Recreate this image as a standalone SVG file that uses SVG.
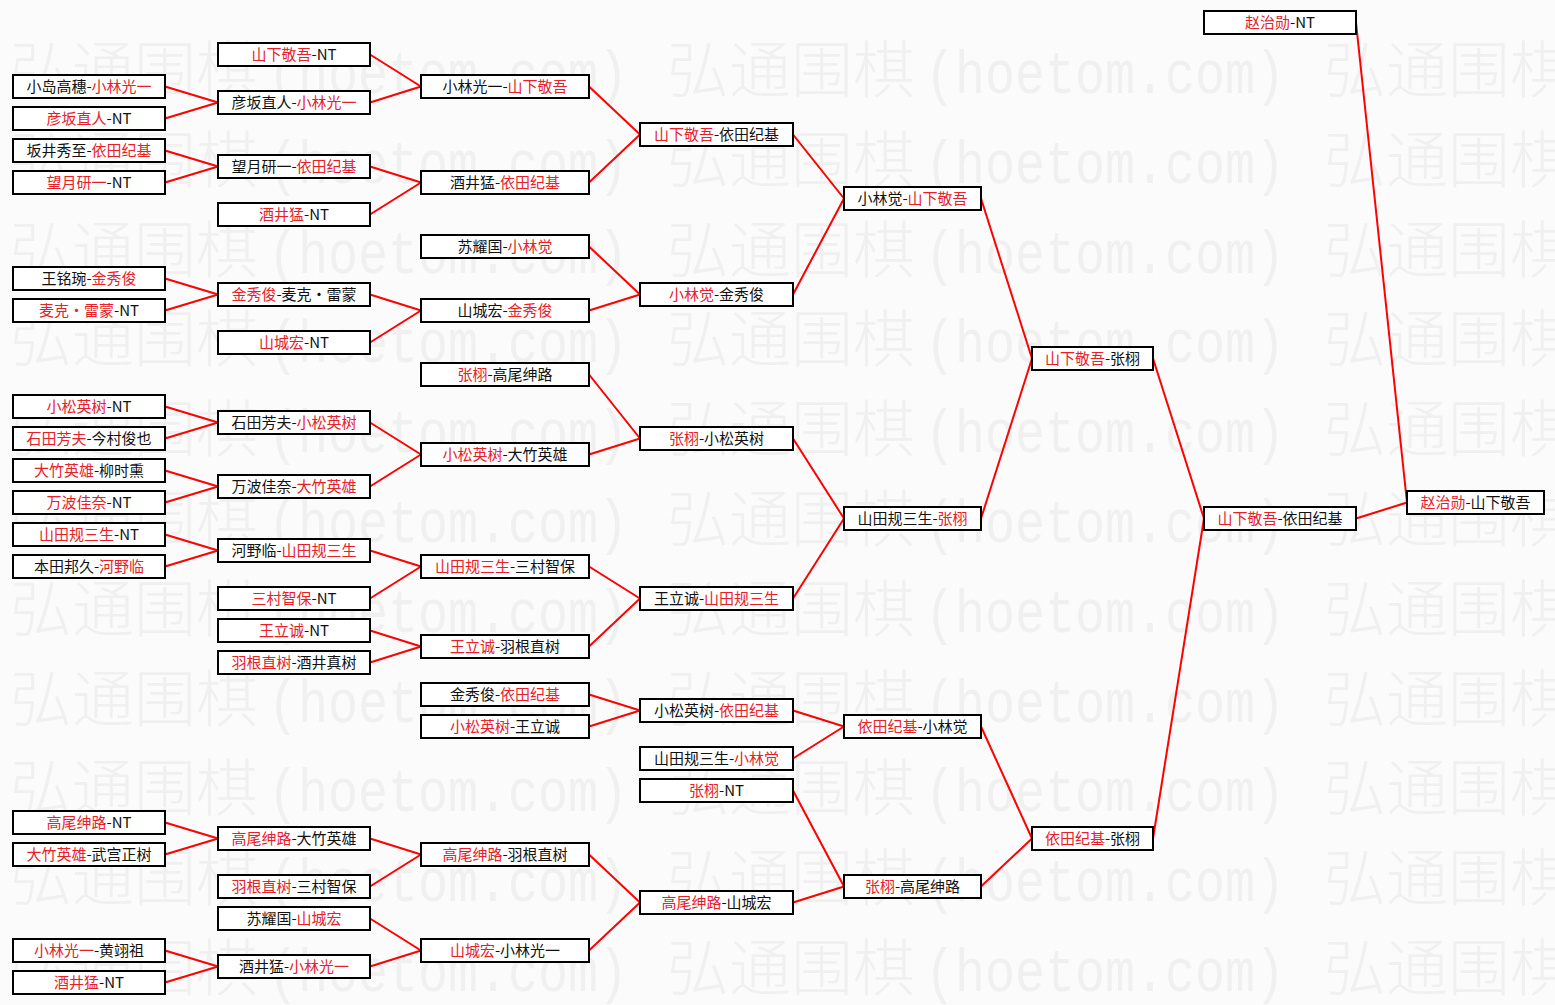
<svg xmlns="http://www.w3.org/2000/svg" xmlns:xlink="http://www.w3.org/1999/xlink" width="1555" height="1005" viewBox="0 0 1555 1005">
<style>
.bg{fill:#fbfbfb}
.wmc{font-family:"Noto Sans CJK SC",sans-serif;font-size:62px;font-weight:300;fill:#f0f0f0}
.wml{font-family:"Liberation Mono",monospace;font-size:62px;fill:#f0f0f0}
.b{fill:#fff;stroke:#000;stroke-width:2}
.t{font-family:"Noto Sans CJK SC",sans-serif;font-size:15px;text-anchor:middle;fill:#111}
.r{fill:#e8202a}
.c line{stroke:#f00;stroke-width:2}
</style>
<defs>
<g id="wm">
<text class="wmc" x="0" y="0">弘通围棋</text>
<text class="wml" x="258" y="0" textLength="360" lengthAdjust="spacingAndGlyphs">(hoetom.com)</text>
</g>
</defs>
<rect class="bg" x="0" y="0" width="1555" height="1005"/>
<g id="watermark">
<use href="#wm" x="10" y="93"/><use href="#wm" x="667" y="93"/><use href="#wm" x="1324" y="93"/>
<use href="#wm" x="10" y="182.8"/><use href="#wm" x="667" y="182.8"/><use href="#wm" x="1324" y="182.8"/>
<use href="#wm" x="10" y="272.6"/><use href="#wm" x="667" y="272.6"/><use href="#wm" x="1324" y="272.6"/>
<use href="#wm" x="10" y="362.4"/><use href="#wm" x="667" y="362.4"/><use href="#wm" x="1324" y="362.4"/>
<use href="#wm" x="10" y="452.2"/><use href="#wm" x="667" y="452.2"/><use href="#wm" x="1324" y="452.2"/>
<use href="#wm" x="10" y="542"/><use href="#wm" x="667" y="542"/><use href="#wm" x="1324" y="542"/>
<use href="#wm" x="10" y="631.8"/><use href="#wm" x="667" y="631.8"/><use href="#wm" x="1324" y="631.8"/>
<use href="#wm" x="10" y="721.6"/><use href="#wm" x="667" y="721.6"/><use href="#wm" x="1324" y="721.6"/>
<use href="#wm" x="10" y="811.4"/><use href="#wm" x="667" y="811.4"/><use href="#wm" x="1324" y="811.4"/>
<use href="#wm" x="10" y="901.2"/><use href="#wm" x="667" y="901.2"/><use href="#wm" x="1324" y="901.2"/>
<use href="#wm" x="10" y="991"/><use href="#wm" x="667" y="991"/><use href="#wm" x="1324" y="991"/>
</g>
<g id="connectors" class="c">
<line x1="165" y1="86.5" x2="218" y2="102.5"/><line x1="165" y1="118.5" x2="218" y2="102.5"/>
<line x1="165" y1="150.5" x2="218" y2="166.5"/><line x1="165" y1="182.5" x2="218" y2="166.5"/>
<line x1="165" y1="278.5" x2="218" y2="294.5"/><line x1="165" y1="310.5" x2="218" y2="294.5"/>
<line x1="165" y1="406.5" x2="218" y2="422.5"/><line x1="165" y1="438.5" x2="218" y2="422.5"/>
<line x1="165" y1="470.5" x2="218" y2="486.5"/><line x1="165" y1="502.5" x2="218" y2="486.5"/>
<line x1="165" y1="534.5" x2="218" y2="550.5"/><line x1="165" y1="566.5" x2="218" y2="550.5"/>
<line x1="165" y1="822.5" x2="218" y2="838.5"/><line x1="165" y1="854.5" x2="218" y2="838.5"/>
<line x1="165" y1="950.5" x2="218" y2="966.5"/><line x1="165" y1="982.5" x2="218" y2="966.5"/>
<line x1="370" y1="54.5" x2="421" y2="86.5"/><line x1="370" y1="102.5" x2="421" y2="86.5"/>
<line x1="370" y1="166.5" x2="421" y2="182.5"/><line x1="370" y1="214.5" x2="421" y2="182.5"/>
<line x1="370" y1="294.5" x2="421" y2="310.5"/><line x1="370" y1="342.5" x2="421" y2="310.5"/>
<line x1="370" y1="422.5" x2="421" y2="454.5"/><line x1="370" y1="486.5" x2="421" y2="454.5"/>
<line x1="370" y1="550.5" x2="421" y2="566.5"/><line x1="370" y1="598.5" x2="421" y2="566.5"/>
<line x1="370" y1="630.5" x2="421" y2="646.5"/><line x1="370" y1="662.5" x2="421" y2="646.5"/>
<line x1="370" y1="838.5" x2="421" y2="854.5"/><line x1="370" y1="886.5" x2="421" y2="854.5"/>
<line x1="370" y1="918.5" x2="421" y2="950.5"/><line x1="370" y1="966.5" x2="421" y2="950.5"/>
<line x1="589" y1="86.5" x2="640" y2="134.5"/><line x1="589" y1="182.5" x2="640" y2="134.5"/>
<line x1="589" y1="246.5" x2="640" y2="294.5"/><line x1="589" y1="310.5" x2="640" y2="294.5"/>
<line x1="589" y1="374.5" x2="640" y2="438.5"/><line x1="589" y1="454.5" x2="640" y2="438.5"/>
<line x1="589" y1="566.5" x2="640" y2="598.5"/><line x1="589" y1="646.5" x2="640" y2="598.5"/>
<line x1="589" y1="694.5" x2="640" y2="710.5"/><line x1="589" y1="726.5" x2="640" y2="710.5"/>
<line x1="589" y1="854.5" x2="640" y2="902.5"/><line x1="589" y1="950.5" x2="640" y2="902.5"/>
<line x1="793" y1="134.5" x2="844" y2="198.5"/><line x1="793" y1="294.5" x2="844" y2="198.5"/>
<line x1="793" y1="438.5" x2="844" y2="518.5"/><line x1="793" y1="598.5" x2="844" y2="518.5"/>
<line x1="793" y1="710.5" x2="844" y2="726.5"/><line x1="793" y1="758.5" x2="844" y2="726.5"/>
<line x1="793" y1="790.5" x2="844" y2="886.5"/><line x1="793" y1="902.5" x2="844" y2="886.5"/>
<line x1="981" y1="198.5" x2="1032" y2="358.5"/><line x1="981" y1="518.5" x2="1032" y2="358.5"/>
<line x1="981" y1="726.5" x2="1032" y2="838.5"/><line x1="981" y1="886.5" x2="1032" y2="838.5"/>
<line x1="1153" y1="358.5" x2="1204" y2="518.5"/><line x1="1153" y1="838.5" x2="1204" y2="518.5"/>
<line x1="1356" y1="22.5" x2="1407" y2="502.5"/><line x1="1356" y1="518.5" x2="1407" y2="502.5"/>
</g>
<g id="nodes">
<g id="r1-01" transform="translate(13,75)"><rect class="b" width="152" height="23"/><text class="t" x="76" y="17">小岛高穗-<tspan class="r">小林光一</tspan></text></g>
<g id="r1-02" transform="translate(13,107)"><rect class="b" width="152" height="23"/><text class="t" x="76" y="17"><tspan class="r">彦坂直人</tspan>-NT</text></g>
<g id="r1-03" transform="translate(13,139)"><rect class="b" width="152" height="23"/><text class="t" x="76" y="17">坂井秀至-<tspan class="r">依田纪基</tspan></text></g>
<g id="r1-04" transform="translate(13,171)"><rect class="b" width="152" height="23"/><text class="t" x="76" y="17"><tspan class="r">望月研一</tspan>-NT</text></g>
<g id="r1-05" transform="translate(13,267)"><rect class="b" width="152" height="23"/><text class="t" x="76" y="17">王铭琬-<tspan class="r">金秀俊</tspan></text></g>
<g id="r1-06" transform="translate(13,299)"><rect class="b" width="152" height="23"/><text class="t" x="76" y="17"><tspan class="r">麦克·雷蒙</tspan>-NT</text></g>
<g id="r1-07" transform="translate(13,395)"><rect class="b" width="152" height="23"/><text class="t" x="76" y="17"><tspan class="r">小松英树</tspan>-NT</text></g>
<g id="r1-08" transform="translate(13,427)"><rect class="b" width="152" height="23"/><text class="t" x="76" y="17"><tspan class="r">石田芳夫</tspan>-今村俊也</text></g>
<g id="r1-09" transform="translate(13,459)"><rect class="b" width="152" height="23"/><text class="t" x="76" y="17"><tspan class="r">大竹英雄</tspan>-柳时熏</text></g>
<g id="r1-10" transform="translate(13,491)"><rect class="b" width="152" height="23"/><text class="t" x="76" y="17"><tspan class="r">万波佳奈</tspan>-NT</text></g>
<g id="r1-11" transform="translate(13,523)"><rect class="b" width="152" height="23"/><text class="t" x="76" y="17"><tspan class="r">山田规三生</tspan>-NT</text></g>
<g id="r1-12" transform="translate(13,555)"><rect class="b" width="152" height="23"/><text class="t" x="76" y="17">本田邦久-<tspan class="r">河野临</tspan></text></g>
<g id="r1-13" transform="translate(13,811)"><rect class="b" width="152" height="23"/><text class="t" x="76" y="17"><tspan class="r">高尾绅路</tspan>-NT</text></g>
<g id="r1-14" transform="translate(13,843)"><rect class="b" width="152" height="23"/><text class="t" x="76" y="17"><tspan class="r">大竹英雄</tspan>-武宫正树</text></g>
<g id="r1-15" transform="translate(13,939)"><rect class="b" width="152" height="23"/><text class="t" x="76" y="17"><tspan class="r">小林光一</tspan>-黄翊祖</text></g>
<g id="r1-16" transform="translate(13,971)"><rect class="b" width="152" height="23"/><text class="t" x="76" y="17"><tspan class="r">酒井猛</tspan>-NT</text></g>
<g id="r2-01" transform="translate(218,43)"><rect class="b" width="152" height="23"/><text class="t" x="76" y="17"><tspan class="r">山下敬吾</tspan>-NT</text></g>
<g id="r2-02" transform="translate(218,91)"><rect class="b" width="152" height="23"/><text class="t" x="76" y="17">彦坂直人-<tspan class="r">小林光一</tspan></text></g>
<g id="r2-03" transform="translate(218,155)"><rect class="b" width="152" height="23"/><text class="t" x="76" y="17">望月研一-<tspan class="r">依田纪基</tspan></text></g>
<g id="r2-04" transform="translate(218,203)"><rect class="b" width="152" height="23"/><text class="t" x="76" y="17"><tspan class="r">酒井猛</tspan>-NT</text></g>
<g id="r2-05" transform="translate(218,283)"><rect class="b" width="152" height="23"/><text class="t" x="76" y="17"><tspan class="r">金秀俊</tspan>-麦克·雷蒙</text></g>
<g id="r2-06" transform="translate(218,331)"><rect class="b" width="152" height="23"/><text class="t" x="76" y="17"><tspan class="r">山城宏</tspan>-NT</text></g>
<g id="r2-07" transform="translate(218,411)"><rect class="b" width="152" height="23"/><text class="t" x="76" y="17">石田芳夫-<tspan class="r">小松英树</tspan></text></g>
<g id="r2-08" transform="translate(218,475)"><rect class="b" width="152" height="23"/><text class="t" x="76" y="17">万波佳奈-<tspan class="r">大竹英雄</tspan></text></g>
<g id="r2-09" transform="translate(218,539)"><rect class="b" width="152" height="23"/><text class="t" x="76" y="17">河野临-<tspan class="r">山田规三生</tspan></text></g>
<g id="r2-10" transform="translate(218,587)"><rect class="b" width="152" height="23"/><text class="t" x="76" y="17"><tspan class="r">三村智保</tspan>-NT</text></g>
<g id="r2-11" transform="translate(218,619)"><rect class="b" width="152" height="23"/><text class="t" x="76" y="17"><tspan class="r">王立诚</tspan>-NT</text></g>
<g id="r2-12" transform="translate(218,651)"><rect class="b" width="152" height="23"/><text class="t" x="76" y="17"><tspan class="r">羽根直树</tspan>-酒井真树</text></g>
<g id="r2-13" transform="translate(218,827)"><rect class="b" width="152" height="23"/><text class="t" x="76" y="17"><tspan class="r">高尾绅路</tspan>-大竹英雄</text></g>
<g id="r2-14" transform="translate(218,875)"><rect class="b" width="152" height="23"/><text class="t" x="76" y="17"><tspan class="r">羽根直树</tspan>-三村智保</text></g>
<g id="r2-15" transform="translate(218,907)"><rect class="b" width="152" height="23"/><text class="t" x="76" y="17">苏耀国-<tspan class="r">山城宏</tspan></text></g>
<g id="r2-16" transform="translate(218,955)"><rect class="b" width="152" height="23"/><text class="t" x="76" y="17">酒井猛-<tspan class="r">小林光一</tspan></text></g>
<g id="r3-01" transform="translate(421,75)"><rect class="b" width="168" height="23"/><text class="t" x="84" y="17">小林光一-<tspan class="r">山下敬吾</tspan></text></g>
<g id="r3-02" transform="translate(421,171)"><rect class="b" width="168" height="23"/><text class="t" x="84" y="17">酒井猛-<tspan class="r">依田纪基</tspan></text></g>
<g id="r3-03" transform="translate(421,235)"><rect class="b" width="168" height="23"/><text class="t" x="84" y="17">苏耀国-<tspan class="r">小林觉</tspan></text></g>
<g id="r3-04" transform="translate(421,299)"><rect class="b" width="168" height="23"/><text class="t" x="84" y="17">山城宏-<tspan class="r">金秀俊</tspan></text></g>
<g id="r3-05" transform="translate(421,363)"><rect class="b" width="168" height="23"/><text class="t" x="84" y="17"><tspan class="r">张栩</tspan>-高尾绅路</text></g>
<g id="r3-06" transform="translate(421,443)"><rect class="b" width="168" height="23"/><text class="t" x="84" y="17"><tspan class="r">小松英树</tspan>-大竹英雄</text></g>
<g id="r3-07" transform="translate(421,555)"><rect class="b" width="168" height="23"/><text class="t" x="84" y="17"><tspan class="r">山田规三生</tspan>-三村智保</text></g>
<g id="r3-08" transform="translate(421,635)"><rect class="b" width="168" height="23"/><text class="t" x="84" y="17"><tspan class="r">王立诚</tspan>-羽根直树</text></g>
<g id="r3-09" transform="translate(421,683)"><rect class="b" width="168" height="23"/><text class="t" x="84" y="17">金秀俊-<tspan class="r">依田纪基</tspan></text></g>
<g id="r3-10" transform="translate(421,715)"><rect class="b" width="168" height="23"/><text class="t" x="84" y="17"><tspan class="r">小松英树</tspan>-王立诚</text></g>
<g id="r3-11" transform="translate(421,843)"><rect class="b" width="168" height="23"/><text class="t" x="84" y="17"><tspan class="r">高尾绅路</tspan>-羽根直树</text></g>
<g id="r3-12" transform="translate(421,939)"><rect class="b" width="168" height="23"/><text class="t" x="84" y="17"><tspan class="r">山城宏</tspan>-小林光一</text></g>
<g id="r4-01" transform="translate(640,123)"><rect class="b" width="153" height="23"/><text class="t" x="76.5" y="17"><tspan class="r">山下敬吾</tspan>-依田纪基</text></g>
<g id="r4-02" transform="translate(640,283)"><rect class="b" width="153" height="23"/><text class="t" x="76.5" y="17"><tspan class="r">小林觉</tspan>-金秀俊</text></g>
<g id="r4-03" transform="translate(640,427)"><rect class="b" width="153" height="23"/><text class="t" x="76.5" y="17"><tspan class="r">张栩</tspan>-小松英树</text></g>
<g id="r4-04" transform="translate(640,587)"><rect class="b" width="153" height="23"/><text class="t" x="76.5" y="17">王立诚-<tspan class="r">山田规三生</tspan></text></g>
<g id="r4-05" transform="translate(640,699)"><rect class="b" width="153" height="23"/><text class="t" x="76.5" y="17">小松英树-<tspan class="r">依田纪基</tspan></text></g>
<g id="r4-06" transform="translate(640,747)"><rect class="b" width="153" height="23"/><text class="t" x="76.5" y="17">山田规三生-<tspan class="r">小林觉</tspan></text></g>
<g id="r4-07" transform="translate(640,779)"><rect class="b" width="153" height="23"/><text class="t" x="76.5" y="17"><tspan class="r">张栩</tspan>-NT</text></g>
<g id="r4-08" transform="translate(640,891)"><rect class="b" width="153" height="23"/><text class="t" x="76.5" y="17"><tspan class="r">高尾绅路</tspan>-山城宏</text></g>
<g id="r5-01" transform="translate(844,187)"><rect class="b" width="137" height="23"/><text class="t" x="68.5" y="17">小林觉-<tspan class="r">山下敬吾</tspan></text></g>
<g id="r5-02" transform="translate(844,507)"><rect class="b" width="137" height="23"/><text class="t" x="68.5" y="17">山田规三生-<tspan class="r">张栩</tspan></text></g>
<g id="r5-03" transform="translate(844,715)"><rect class="b" width="137" height="23"/><text class="t" x="68.5" y="17"><tspan class="r">依田纪基</tspan>-小林觉</text></g>
<g id="r5-04" transform="translate(844,875)"><rect class="b" width="137" height="23"/><text class="t" x="68.5" y="17"><tspan class="r">张栩</tspan>-高尾绅路</text></g>
<g id="r6-01" transform="translate(1032,347)"><rect class="b" width="121" height="23"/><text class="t" x="60.5" y="17"><tspan class="r">山下敬吾</tspan>-张栩</text></g>
<g id="r6-02" transform="translate(1032,827)"><rect class="b" width="121" height="23"/><text class="t" x="60.5" y="17"><tspan class="r">依田纪基</tspan>-张栩</text></g>
<g id="r7-01" transform="translate(1204,11)"><rect class="b" width="152" height="23"/><text class="t" x="76" y="17"><tspan class="r">赵治勋</tspan>-NT</text></g>
<g id="r7-02" transform="translate(1204,507)"><rect class="b" width="152" height="23"/><text class="t" x="76" y="17"><tspan class="r">山下敬吾</tspan>-依田纪基</text></g>
<g id="r8-01" transform="translate(1407,491)"><rect class="b" width="137" height="23"/><text class="t" x="68.5" y="17"><tspan class="r">赵治勋</tspan>-山下敬吾</text></g>
</g>
</svg>
